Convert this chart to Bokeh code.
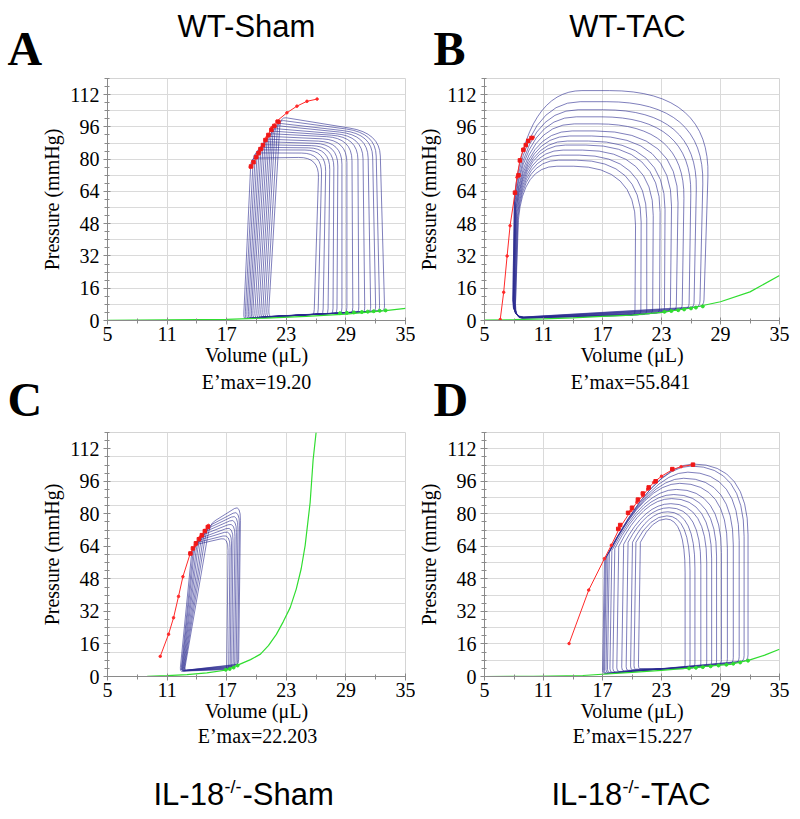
import numpy as np
from bokeh.plotting import figure
from bokeh.models import Range1d, FixedTicker, Label, ColumnDataSource
from bokeh.layouts import column, row
from bokeh.embed import file_html
from bokeh.resources import INLINE

# ---------------- axes / text ----------------
X_TICKS = [5, 11, 17, 23, 29, 35]
X_MINOR = [8, 14, 20, 26, 32]
Y_TICKS = [0, 16, 32, 48, 64, 80, 96, 112]
Y_MINOR = [0, 4, 8, 12, 16, 20, 24, 28, 32, 36, 40, 44, 48, 52, 56, 60, 64, 68, 72, 76,
           80, 84, 88, 92, 96, 100, 104, 108, 112, 116, 120]
Y_GRID_8 = [8, 16, 24, 32, 40, 48, 56, 64, 72, 80, 88, 96, 104, 112, 120]
Y_GRID_12 = [12, 24, 36, 48, 60, 72, 84, 96, 108, 120]

TITLES = ["WT-Sham", "WT-TAC"]
LETTERS = ["A", "B", "C", "D"]
EMAX = ["E\u2019max=19.20", "E\u2019max=55.841", "E\u2019max=22.203", "E\u2019max=15.227"]
GROUPS = [("IL-18", "-/-", "-Sham"), ("IL-18", "-/-", "-TAC")]

# ---------------- panel A : WT-Sham (corners BR, TR, TL, BL) ----------------
A_br_v = [32.9, 32.4, 32.0, 31.5, 30.9, 30.3, 29.7, 29.1, 28.6, 28.1, 27.7, 27.2, 26.7, 26.2, 25.8]
A_br_p = [5.0, 4.8, 4.6, 4.5, 4.3, 4.2, 4.0, 3.9, 3.7, 3.6, 3.5, 3.4, 3.3, 3.2, 3.1]
A_tr_v = [32.4, 32.0, 31.65, 31.2, 30.7, 30.2, 29.6, 29.1, 28.6, 28.2, 27.8, 27.4, 27.0, 26.6, 26.3]
A_tr_p = [93, 93, 92.5, 92, 91.5, 91, 90.5, 89.5, 88.5, 87.5, 86.5, 85.5, 84.5, 83, 81]
A_tl_v = [22.4, 22.15, 21.9, 21.7, 21.5, 21.3, 21.1, 20.9, 20.7, 20.5, 20.3, 20.1, 19.9, 19.7, 19.45]
A_tl_p = [101, 99.5, 98, 96.8, 95.3, 94, 92.7, 91.4, 90, 88.7, 87.2, 85.9, 84.6, 83.1, 80.5]
A_bl_v = [21.2, 21.0, 20.8, 20.6, 20.4, 20.2, 20.0, 19.8, 19.6, 19.45, 19.3, 19.15, 19.0, 18.85, 18.7]
A_bl_p = [2.0, 1.9, 1.8, 1.8, 1.7, 1.6, 1.5, 1.5, 1.4, 1.3, 1.2, 1.2, 1.1, 1.0, 1.0]
A_red_v = [19.37, 20.04, 20.55, 21.05, 21.55, 22.05, 23.06, 24.07, 25.08, 26.1]
A_red_p = [76.1, 81.0, 85.1, 90.8, 95.7, 98.9, 103.0, 106.3, 108.7, 109.8]
A_es_v = [19.45, 19.7, 19.95, 20.2, 20.4, 20.65, 20.9, 21.2, 21.5, 21.8, 22.2]
A_es_p = [76.4, 78.5, 81, 83, 85, 87, 89.5, 92, 94.5, 96.5, 98.5]
A_grn_v = [5, 11, 17, 21, 25, 29, 33, 35]
A_grn_p = [0.1, 0.3, 0.6, 1.2, 2.0, 3.2, 4.9, 6.0]
A_ed_v = [28.4, 29.1, 29.8, 30.6, 31.2, 31.8, 32.4, 33.0]
A_ed_p = [3.6, 3.8, 4.0, 4.2, 4.4, 4.6, 4.8, 5.0]

# ---------------- panel B : WT-TAC (corners BR, TR, TA, TB, BL) ----------------
B_br_v = [27.3, 26.9, 26.3, 25.8, 25.1, 24.5, 23.9, 23.3, 22.8, 22.1, 21.5, 20.9, 20.3]
B_br_p = [7.0, 6.6, 6.1, 5.7, 5.2, 4.8, 4.3, 3.9, 3.6, 3.3, 3.0, 2.8, 2.6]
B_tr_v = [28.0, 27.4, 26.7, 26.1, 25.4, 24.8, 24.1, 23.4, 22.9, 22.2, 21.5, 20.95, 20.4]
B_top = [114, 108.5, 104.5, 101, 97.5, 94, 91.5, 89, 87, 84.5, 82, 79.5, 76.5]
B_ta_v = [9.3, 9.3, 9.3, 9.3, 9.3, 9.25, 9.2, 9.15, 9.1, 9.05, 9.0, 8.95, 8.9]
B_tb_v = [8.05, 8.05, 8.1, 8.1, 8.15, 8.15, 8.2, 8.2, 8.25, 8.3, 8.35, 8.4, 8.45]
B_tb_p = [62, 61, 60, 59, 58, 57, 56, 55, 54, 53, 52, 51, 50]
B_bl_v = [7.85, 7.85, 7.9, 7.9, 7.9, 7.95, 7.95, 8.0, 8.0, 8.05, 8.05, 8.1, 8.1]
B_bl_p = [1.4, 1.4, 1.3, 1.3, 1.3, 1.2, 1.2, 1.2, 1.1, 1.1, 1.1, 1.0, 1.0]
B_red_v = [6.6, 6.95, 7.3, 7.6, 8.1, 8.3, 8.6, 8.95, 9.45, 9.95]
B_red_p = [0.5, 14, 32, 47, 63, 71, 79.4, 85, 89, 90.8]
B_es_v = [8.1, 8.45, 8.6, 8.95, 9.2, 9.45, 9.78]
B_es_p = [63.4, 72, 79.4, 84.6, 87, 89.1, 90.5]
B_grn_v = [5, 8, 11, 14, 17, 20, 23, 26, 29, 32, 35]
B_grn_p = [0.2, 0.4, 0.8, 1.3, 2.0, 2.7, 4.0, 6.2, 9.3, 14.2, 22.3]
B_ed_v = [23.3, 24.0, 24.7, 25.3, 26.0, 26.5, 27.2]
B_ed_p = [4.3, 4.7, 5.1, 5.5, 6.0, 6.4, 7.0]

# ---------------- panel C : IL-18-/- Sham (corners BR, TR, TA, BL) ----------------
C_br_v = [18.2, 18.1, 17.95, 17.8, 17.65, 17.5, 17.35, 17.2, 17.0]
C_br_p = [6.1, 5.8, 5.4, 5.0, 4.7, 4.3, 4.0, 3.7, 3.4]
C_tr_v = [18.4, 18.3, 18.15, 18.0, 17.85, 17.65, 17.5, 17.35, 17.15]
C_tr_p = [84.5, 82, 80, 78, 76, 74, 72, 70, 68.5]
C_ta_v = [15.3, 15.0, 14.75, 14.5, 14.25, 14.05, 13.85, 13.7, 13.55]
C_ta_p = [75, 73.5, 72, 70.5, 69, 67.5, 66.5, 65.5, 64.5]
C_bl_v = [12.75, 12.7, 12.65, 12.6, 12.55, 12.5, 12.45, 12.4, 12.3]
C_bl_p = [3.0, 3.0, 2.9, 2.9, 2.8, 2.8, 2.7, 2.7, 2.6]
C_red_v = [10.31, 11.15, 11.65, 12.15, 12.59, 13.33, 13.83, 14.34, 14.8, 15.17]
C_red_p = [9.9, 20.8, 28.9, 39.4, 49.1, 60.5, 64.5, 68.6, 71.8, 74.3]
C_es_v = [13.35, 13.6, 13.9, 14.2, 14.5, 14.8, 15.1]
C_es_p = [60.5, 63, 65.5, 67.5, 69.5, 71.5, 73.5]
C_grn_v = [5, 9, 11, 13, 15, 17, 18.4, 19.4, 20.4, 21.2, 22.0, 22.7, 23.4, 24.0, 24.5, 24.9, 25.4, 25.7, 26.0]
C_grn_p = [0, 0.1, 0.4, 0.9, 1.8, 3.2, 6.2, 8.3, 11, 15.2, 20.7, 27, 34, 43, 53, 64.5, 85.6, 106.6, 120]
C_ed_v = [16.9, 17.3, 17.7, 18.1]
C_ed_p = [3.3, 3.7, 4.4, 5.4]

# ---------------- panel D : IL-18-/- TAC (corners BR, TR, TA, TB, BL) ----------------
D_br_v = [31.8, 31.4, 30.9, 30.3, 29.7, 29.1, 28.6, 28.1, 27.6, 27.0, 26.4, 25.9, 25.4]
D_br_p = [7.8, 7.4, 7.0, 6.5, 6.1, 5.7, 5.4, 5.1, 4.8, 4.5, 4.2, 4.0, 3.8]
D_top = [104.5, 103.5, 100.5, 97.5, 95, 92, 89.5, 87.5, 85, 83, 81, 79, 77.5]
D_ta_v = [22.2, 22.1, 21.9, 21.6, 21.35, 21.2, 21.1, 21.1, 21.3, 21.45, 21.65, 21.85, 22.05]
D_tb_v = [17.2, 17.3, 17.4, 17.55, 17.7, 17.95, 18.25, 18.65, 19.15, 19.6, 20.05, 20.4, 20.85]
D_tb_p = [57, 58, 59, 60, 61, 62, 63, 64, 65, 66, 66, 66, 66]
D_bl_v = [17.0, 17.1, 17.2, 17.35, 17.5, 17.75, 18.05, 18.45, 18.95, 19.4, 19.85, 20.2, 20.65]
D_bl_p = [1.2, 1.3, 1.4, 1.5, 1.7, 1.9, 2.1, 2.4, 2.7, 3.0, 3.3, 3.6, 3.9]
D_red_v = [13.6, 15.6, 17.2, 17.9, 18.7, 19.9, 20.5, 21.1, 21.6, 22.2, 23.0, 24.1, 25.0, 26.2]
D_red_p = [16.2, 42.5, 58.0, 64.6, 72.7, 81.6, 85.7, 88.9, 92.1, 95.4, 98.5, 101.7, 103.2, 104.2]
D_es_v = [18.6, 18.8, 19.6, 20.0, 20.6, 21.1, 21.7, 22.4, 24.1, 26.2]
D_es_p = [72.6, 74.5, 80.5, 83, 87, 90, 93, 96, 102, 104.2]
D_grn_v = [5, 10, 15, 20, 23, 26, 28, 30, 32, 33.5, 35]
D_grn_p = [0, 0.1, 0.5, 2.0, 3.0, 4.2, 5.2, 6.0, 8.2, 10.5, 13.4]
D_ed_v = [25.8, 26.5, 27.2, 28.0, 28.8, 29.6, 30.3, 31.0, 31.8]
D_ed_p = [4.0, 4.3, 4.6, 5.0, 5.4, 5.8, 6.3, 6.9, 7.8]

# corner rounding (fraction of incoming edge, fraction of outgoing edge) -- style only
ROUND_A = [(0.02, 0.03), (0.13, 0.30), (0.06, 0.05), (0.04, 0.02)]
ROUND_B = [(0.03, 0.03), (0.40, 0.55), (0.30, 1.0), (0.0, 0.03), (0.15, 0.06)]
ROUND_C = [(0.03, 0.03), (0.10, 0.20), (0.15, 0.10), (0.03, 0.03)]
ROUND_D = [(0.03, 0.03), (0.36, 0.58), (0.42, 1.0), (0.0, 0.03), (0.03, 0.03)]

LOOP = "#2a2a90"
RED = "#ff2a2a"
GREEN = "#30dd30"
SERIF = "Liberation Serif"
SANS = "Liberation Sans"


def loop_sources(corners, fracs):
    k = len(corners)
    n = len(corners[0][0])
    q = dict(x0=[], y0=[], x1=[], y1=[], cx=[], cy=[])
    s = dict(x0=[], y0=[], x1=[], y1=[])
    for j in range(n):
        pts = [np.array([cv[j], cp[j]], dtype=float) for cv, cp in corners]
        starts, ends = [], []
        for i in range(k):
            c, prv, nxt = pts[i], pts[i - 1], pts[(i + 1) % k]
            fi, fo = fracs[i]
            a = c + fi * (prv - c)
            b = c + fo * (nxt - c)
            starts.append(a)
            ends.append(b)
            q["x0"].append(a[0]); q["y0"].append(a[1])
            q["x1"].append(b[0]); q["y1"].append(b[1])
            q["cx"].append(c[0]); q["cy"].append(c[1])
        for i in range(k):
            a, b = ends[i], starts[(i + 1) % k]
            s["x0"].append(a[0]); s["y0"].append(a[1])
            s["x1"].append(b[0]); s["y1"].append(b[1])
    return ColumnDataSource(q), ColumnDataSource(s)


def make_panel(width, height, bl, br, bt, bb, ygrid):
    p = figure(width=width, height=height, x_range=Range1d(5, 35), y_range=Range1d(0, 120),
               output_backend="svg", toolbar_location=None,
               min_border_left=bl, min_border_right=br, min_border_top=bt, min_border_bottom=bb)
    p.background_fill_color = "white"
    p.border_fill_color = "white"
    p.outline_line_color = "#d4d4d4"
    p.xaxis.ticker = FixedTicker(ticks=X_TICKS, minor_ticks=X_MINOR)
    p.yaxis.ticker = FixedTicker(ticks=Y_TICKS, minor_ticks=Y_MINOR)
    p.xgrid.ticker = FixedTicker(ticks=X_TICKS)
    p.ygrid.ticker = FixedTicker(ticks=ygrid)
    for g in (p.xgrid, p.ygrid):
        g.grid_line_color = "#dadada"
        g.grid_line_width = 1
    for ax in (p.xaxis, p.yaxis):
        ax.axis_line_color = "#8a8a8a"
        ax.major_tick_line_color = "#8a8a8a"
        ax.minor_tick_line_color = "#8a8a8a"
        ax.major_tick_in = 3
        ax.major_tick_out = 4
        ax.minor_tick_in = 2
        ax.minor_tick_out = 3
        ax.major_label_text_font = SERIF
        ax.major_label_text_font_size = "20px"
        ax.major_label_text_color = "black"
        ax.axis_label_text_font = SERIF
        ax.axis_label_text_font_size = "20px"
        ax.axis_label_text_font_style = "normal"
        ax.axis_label_text_color = "black"
    p.xaxis.axis_label = "Volume (\u03bcL)"
    p.yaxis.axis_label = "Pressure (mmHg)"
    p.xaxis.major_label_standoff = 2
    p.xaxis.axis_label_standoff = 0
    p.yaxis.major_label_standoff = 4
    p.yaxis.axis_label_standoff = 4
    return p


def draw(p, corners, fracs, red_v, red_p, es_v, es_p, grn_v, grn_p, ed_v, ed_p):
    qs, ss = loop_sources(corners, fracs)
    p.quadratic(x0="x0", y0="y0", x1="x1", y1="y1", cx="cx", cy="cy", source=qs,
                line_color=LOOP, line_alpha=0.6, line_width=1)
    p.segment(x0="x0", y0="y0", x1="x1", y1="y1", source=ss,
              line_color=LOOP, line_alpha=0.6, line_width=1)
    p.line(grn_v, grn_p, line_color=GREEN, line_width=1.2)
    p.scatter(ed_v, ed_p, size=3, color=GREEN)
    p.line(red_v, red_p, line_color=RED, line_width=1)
    p.scatter(red_v, red_p, size=2.5, color=RED)
    p.scatter(es_v, es_p, size=3.5, marker="square", color="#f01818")


def text_canvas(w, h):
    c = figure(width=w, height=h, x_range=Range1d(0, w), y_range=Range1d(h, 0),
               output_backend="svg", toolbar_location=None, x_axis_type=None, y_axis_type=None,
               min_border_left=0, min_border_right=0, min_border_top=0, min_border_bottom=0)
    c.outline_line_color = None
    c.background_fill_color = "white"
    c.border_fill_color = "white"
    c.grid.visible = False
    return c


def txt(c, x, y, text, font, size, align="left", style="normal"):
    # y is the wanted baseline; labels here land ~0.34 em low, so lift them
    c.add_layout(Label(x=x, y=y - 0.34 * size, text=text, text_font=font,
                       text_font_size=f"{size}px", text_font_style=style, text_align=align,
                       text_baseline="alphabetic", text_color="black"))


# ---- layout (page px): header 0-78, plots 78-368, middle 368-430, plots 430-724, footer 724-819
header = text_canvas(800, 78)
middle = text_canvas(800, 62)
footer = text_canvas(800, 95)

pA = make_panel(415, 290, 107, 10, 0, 46, Y_GRID_8)
pB = make_panel(385, 290, 66, 21, 0, 46, Y_GRID_8)
pC = make_panel(415, 294, 107, 10, 2, 48, Y_GRID_12)
pD = make_panel(385, 294, 66, 21, 2, 48, Y_GRID_8)

draw(pA, [(A_br_v, A_br_p), (A_tr_v, A_tr_p), (A_tl_v, A_tl_p), (A_bl_v, A_bl_p)], ROUND_A,
     A_red_v, A_red_p, A_es_v, A_es_p, A_grn_v, A_grn_p, A_ed_v, A_ed_p)
draw(pB, [(B_br_v, B_br_p), (B_tr_v, B_top), (B_ta_v, B_top), (B_tb_v, B_tb_p), (B_bl_v, B_bl_p)], ROUND_B,
     B_red_v, B_red_p, B_es_v, B_es_p, B_grn_v, B_grn_p, B_ed_v, B_ed_p)
draw(pC, [(C_br_v, C_br_p), (C_tr_v, C_tr_p), (C_ta_v, C_ta_p), (C_bl_v, C_bl_p)], ROUND_C,
     C_red_v, C_red_p, C_es_v, C_es_p, C_grn_v, C_grn_p, C_ed_v, C_ed_p)
draw(pD, [(D_br_v, D_br_p), (D_br_v, D_top), (D_ta_v, D_top), (D_tb_v, D_tb_p), (D_bl_v, D_bl_p)], ROUND_D,
     D_red_v, D_red_p, D_es_v, D_es_p, D_grn_v, D_grn_p, D_ed_v, D_ed_p)

# header (page y 0..78): group titles and panel letters A, B
txt(header, 246, 37, TITLES[0], SANS, 31, "center")
txt(header, 627, 37, TITLES[1], SANS, 31, "center")
txt(header, 7, 64, LETTERS[0], SERIF, 48, "left", "bold")
txt(header, 433, 64, LETTERS[1], SERIF, 48, "left", "bold")
# middle (page y 368..430): E'max of A, B and letters C, D
txt(middle, 256, 20, EMAX[0], SERIF, 20, "center")
txt(middle, 630, 20, EMAX[1], SERIF, 20, "center")
txt(middle, 7, 47, LETTERS[2], SERIF, 48, "left", "bold")
txt(middle, 433, 47, LETTERS[3], SERIF, 48, "left", "bold")
# footer (page y 724..819): E'max of C, D and group labels with superscript
txt(footer, 257, 18, EMAX[2], SERIF, 20, "center")
txt(footer, 632, 18, EMAX[3], SERIF, 20, "center")
for x0, (head, sup, tail) in zip((153, 551), GROUPS):
    txt(footer, x0, 81, head, SANS, 31)
    txt(footer, x0 + 71, 69, sup, SANS, 18)
    txt(footer, x0 + 89, 81, tail, SANS, 31)

layout = column(header, row(pA, pB), middle, row(pC, pD), footer)
open("out.html", "w").write(file_html(layout, INLINE))
